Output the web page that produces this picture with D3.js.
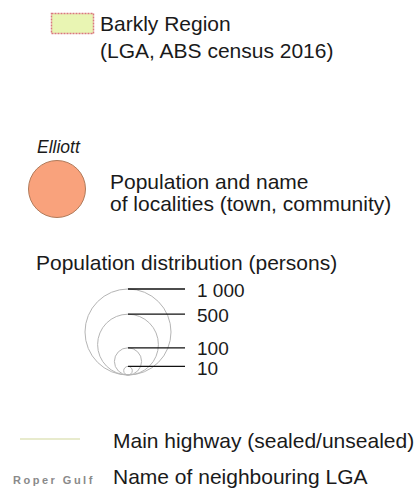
<!DOCTYPE html>
<html>
<head>
<meta charset="utf-8">
<script src="https://cdn.jsdelivr.net/npm/d3@7"></script>
<style>
  body { margin: 0; background: #fff; }
  text { font-family: "Liberation Sans", Arial, sans-serif; fill: #1a1a1a; }
</style>
</head>
<body>
<svg width="419" height="502"></svg>
<script>
var regionLabel = ['Barkly Region', '(LGA, ABS census 2016)']
var localityName = 'Elliott'
var localityLabel = ['Population and name', 'of localities (town, community)']
var distTitle = 'Population distribution (persons)'
var popValues = [1000, 500, 100, 10]
var popLabels = ['1 000', '500', '100', '10']
var highwayLabel = 'Main highway (sealed/unsealed)'
var lgaSample = 'Roper Gulf'
var lgaLabel = 'Name of neighbouring LGA'

var svg = d3.select('svg')

// region swatch
svg.append('rect')
    .attr('x', 51.5).attr('y', 13.5)
    .attr('width', 42).attr('height', 20)
    .attr('fill', '#e9f5b3')
    .attr('stroke', '#d9777f')
    .attr('stroke-width', 1.5)
    .attr('stroke-dasharray', '2,1')

svg.selectAll('.reg')
  .data(regionLabel)
  .enter().append('text')
    .attr('x', 100)
    .attr('y', (d, i) => 31 + i * 27)
    .attr('font-size', 21)
    .text(d => d)

// locality
svg.append('text')
    .attr('x', 37).attr('y', 153)
    .attr('font-size', 17.5)
    .attr('font-style', 'italic')
    .text(localityName)

svg.append('circle')
    .attr('cx', 57).attr('cy', 189).attr('r', 28.5)
    .attr('fill', '#f9a27c')
    .attr('stroke', '#b07a5a')
    .attr('stroke-width', 1)

svg.selectAll('.loc')
  .data(localityLabel)
  .enter().append('text')
    .attr('x', 110)
    .attr('y', (d, i) => 189 + i * 22)
    .attr('font-size', 21)
    .text(d => d)

// population distribution
svg.append('text')
    .attr('x', 36).attr('y', 270)
    .attr('font-size', 21)
    .text(distTitle)

var r = d3.scaleSqrt().domain([0, 1000]).range([0, 43])
var cx = 128, base = 375

svg.selectAll('.pc')
  .data(popValues)
  .enter().append('circle')
    .attr('cx', cx)
    .attr('cy', d => base - r(d))
    .attr('r', d => r(d))
    .attr('fill', 'none')
    .attr('stroke', '#b5b5b5')
    .attr('stroke-width', 1)

svg.selectAll('.pl')
  .data(popValues)
  .enter().append('line')
    .attr('x1', cx).attr('x2', 185)
    .attr('y1', d => base - 2 * r(d))
    .attr('y2', d => base - 2 * r(d))
    .attr('stroke', '#111')
    .attr('stroke-width', 1.3)

var labelY = [297, 322, 355, 375]
svg.selectAll('.pt')
  .data(popLabels)
  .enter().append('text')
    .attr('x', 197)
    .attr('y', (d, i) => labelY[i])
    .attr('font-size', 19)
    .text(d => d)

// highway
svg.append('line')
    .attr('x1', 20).attr('x2', 80)
    .attr('y1', 439).attr('y2', 439)
    .attr('stroke', '#e0e5bd')
    .attr('stroke-width', 1.5)

svg.append('text')
    .attr('x', 113).attr('y', 448)
    .attr('font-size', 21)
    .text(highwayLabel)

// neighbouring LGA
svg.append('text')
    .attr('x', 13).attr('y', 484)
    .attr('font-size', 11)
    .attr('font-weight', 'bold')
    .attr('letter-spacing', 2.5)
    .style('fill', '#8a8a8a')
    .text(lgaSample)

svg.append('text')
    .attr('x', 113).attr('y', 484)
    .attr('font-size', 21)
    .text(lgaLabel)
</script>
</body>
</html>
